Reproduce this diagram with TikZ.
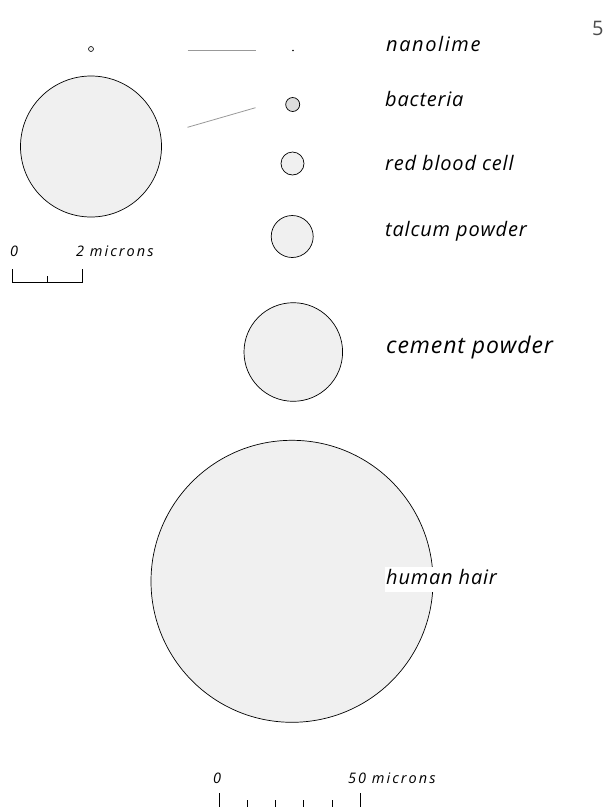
\documentclass[tikz,border=0pt]{standalone}
\usepackage{fontspec}
\setmainfont{Open Sans}
\newfontfamily\lblfont[LetterSpace=4]{Open Sans}
\newfontfamily\nanofont[LetterSpace=8]{Open Sans}
\newfontfamily\cemfont[LetterSpace=4]{Open Sans}
\newfontfamily\sclfont[LetterSpace=14]{Open Sans}
\begin{document}
\begin{tikzpicture}[x=1pt,y=-1pt,
  particle/.style={circle,draw=black,line width=0.7pt,fill=partfill,inner sep=0pt},
  lbl/.style={anchor=base west,inner sep=0pt,font=\lblfont\itshape\fontsize{20}{24}\selectfont},
  scalelbl/.style={anchor=base west,inner sep=0pt,font=\sclfont\itshape\fontsize{14.5}{17}\selectfont},
  zoomline/.style={draw=linegray,line width=0.8pt},
  bar/.style={draw=black,line width=0.8pt}]
\definecolor{partfill}{HTML}{F0F0F0}
\definecolor{bactfill}{HTML}{DDDDDD}
\definecolor{linegray}{HTML}{999999}
\useasboundingbox (0,0) rectangle (608,807);
% page number
\node[anchor=base west,inner sep=0pt,text=black!70,font=\fontsize{20}{22}\selectfont] (pnum) at (592,35) {5};
% left magnified view
\node[particle,minimum size=5pt,line width=0.6pt] (nanoL) at (91,49) {};
\node[particle,minimum size=141pt] (bactL) at (91,146.5) {};
% right column
\node[circle,fill=black,inner sep=0pt,minimum size=1.6pt] (nanoR) at (293,50.5) {};
\node[particle,fill=bactfill,minimum size=14pt] (bactR) at (292.7,104.5) {};
\node[particle,minimum size=23pt] (rbc) at (292.5,163.5) {};
\node[particle,minimum size=42pt] (talc) at (292.2,236.5) {};
\node[particle,minimum size=98.6pt] (cement) at (293.3,352) {};
\node[particle,minimum size=282pt] (hair) at (292,581.3) {};
% zoom lines
\coordinate (z1a) at (187.5,50);
\coordinate (z1b) at (255.5,50);
\coordinate (z2a) at (187.5,127.3);
\coordinate (z2b) at (255.5,107.7);
\draw[zoomline] (z1a) -- (z1b);
\draw[zoomline] (z2a) -- (z2b);
% labels
\node[lbl,font=\nanofont\itshape\fontsize{20}{24}\selectfont] (tnano) at (386,51.7) {nanolime};
\node[lbl] (tbact) at (385,106.7) {bacteria};
\node[lbl] (trbc) at (385,170.7) {red blood cell};
\node[lbl] (ttalc) at (385,236.7) {talcum powder};
\node[lbl,font=\cemfont\itshape\fontsize{23}{27}\selectfont] (tcem) at (386,353.3) {cement powder};
\node[lbl,fill=white,inner ysep=3pt,inner xsep=1pt,text height=14.5pt,text depth=4.5pt] (thair) at (385,584.5) {human hair};
% left scale bar
\node[scalelbl] (s0) at (10,256) {0};
\node[scalelbl] (s2) at (76,256) {2 microns};
\coordinate (lb0) at (12.7,269);
\coordinate (lb0b) at (12.7,282.3);
\coordinate (lb2) at (82,269);
\coordinate (lb2b) at (82,282.3);
\coordinate (lbm) at (47.3,276);
\coordinate (lbmb) at (47.3,282.3);
\draw[bar] (lb0) -- (lb0b) -- (lb2b) -- (lb2);
\draw[bar] (lbm) -- (lbmb);
% bottom scale bar
\node[scalelbl] (b0) at (213,783) {0};
\node[scalelbl] (b50) at (348,783) {50 microns};
\foreach \i/\xx in {0/219.3,5/360} {
  \coordinate (bt\i) at (\xx,793);
  \coordinate (btb\i) at (\xx,807);
  \draw[bar] (bt\i) -- (btb\i);
}
\foreach \i/\xx in {1/247.5,2/275.7,3/303.8,4/331.9} {
  \coordinate (bt\i) at (\xx,800);
  \coordinate (btb\i) at (\xx,807);
  \draw[bar] (bt\i) -- (btb\i);
}
\end{tikzpicture}
\end{document}
